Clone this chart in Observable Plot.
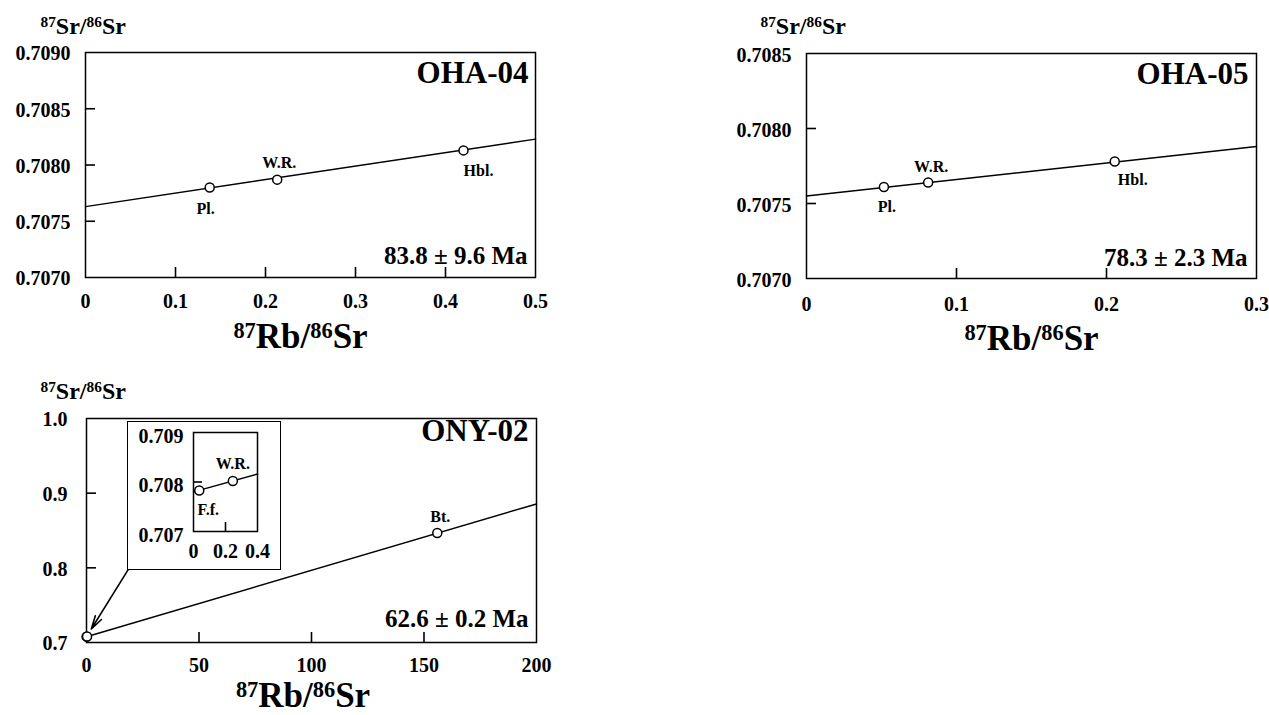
<!DOCTYPE html>
<html>
<head>
<meta charset="utf-8">
<script src="https://cdn.jsdelivr.net/npm/d3@7"></script>
<script src="https://cdn.jsdelivr.net/npm/@observablehq/plot@0.6"></script>
<style>
  body { margin: 0; background: #fff; }
  #root { position: relative; width: 1269px; height: 715px; overflow: hidden; background: #fff; }
  #root > svg { position: absolute; }
  #insetBox { position: absolute; left: 127px; top: 421px; width: 154px; height: 149px;
              border: 1.5px solid #000; background: #fff; box-sizing: border-box; }
  #insetBox svg { position: absolute; left: -0.5px; top: -0.5px; }
</style>
</head>
<body>
<div id="root"></div>
<script>
// ---------------- data ----------------
// OHA-04
const oha04Minerals = ["Pl.", "W.R.", "Hbl."];
const oha04Rb = [0.138, 0.213, 0.420];
const oha04Sr = [0.70780, 0.70787, 0.70813];
const oha04LineRb = [0, 0.5];
const oha04LineSr = [0.70763, 0.70823];
const oha04Age = "83.8 ± 9.6 Ma";
const oha04XTicks = [0, 0.1, 0.2, 0.3, 0.4, 0.5];
const oha04YTicks = [0.7070, 0.7075, 0.7080, 0.7085, 0.7090];

// OHA-05
const oha05Minerals = ["Pl.", "W.R.", "Hbl."];
const oha05Rb = [0.0516, 0.0811, 0.2055];
const oha05Sr = [0.70761, 0.70764, 0.70778];
const oha05LineRb = [0, 0.3];
const oha05LineSr = [0.70755, 0.70788];
const oha05Age = "78.3 ± 2.3 Ma";
const oha05XTicks = [0, 0.1, 0.2, 0.3];
const oha05YTicks = [0.7070, 0.7075, 0.7080, 0.7085];

// ONY-02
const ony02Minerals = ["F.f.", "W.R.", "Bt."];
const ony02Rb = [0.036, 0.246, 155.9];
const ony02Sr = [0.70783, 0.70802, 0.8466];
const ony02LineRb = [0, 200];
const ony02LineSr = [0.7078, 0.8856];
const ony02Age = "62.6 ± 0.2 Ma";
const ony02XTicks = [0, 50, 100, 150, 200];
const ony02YTicks = [0.7, 0.8, 0.9, 1.0];

// ONY-02 inset (enlarged view near origin)
const insetLineRb = [0, 0.4];
const insetLineSr = [0.7078, 0.70816];
const insetXTicks = [0, 0.2, 0.4];
const insetYTicks = [0.707, 0.708, 0.709];

// arrow from inset box corner to the low-Rb points (ONY-02 data units)
const arrowFromRb = [18.8];
const arrowFromSr = [0.799];

const xTitle = "87Rb/86Sr";
const yTitle = "87Sr/86Sr";

// ---------------- styling ----------------
const FONT = '"Liberation Serif","Times New Roman",Times,serif';
const baseStyle = {fontFamily: FONT, fontWeight: "bold", color: "#000", background: "transparent", overflow: "visible"};

function toPoints(names, xs, ys) { return names.map((n, i) => ({name: n, x: xs[i], y: ys[i]})); }
function toLine(xs, ys) { return xs.map((x, i) => ({x, y: ys[i]})); }

function panel(o) {
  const pts = toPoints(o.names, o.rb, o.sr);
  const line = toLine(o.lineRb, o.lineSr);
  const [xLo, xHi] = o.xDomain, [yLo, yHi] = o.yDomain;
  const fw = o.width - o.m[0] - o.m[1], fh = o.height - o.m[2] - o.m[3];
  // inward tick length in pixels, converted to data units
  const dyTick = (yHi - yLo) * o.tickLen / fh, dxTick = (xHi - xLo) * o.tickLen / fw;
  const xIn = o.xTicks.slice(1, -1).map(t => ({t, a: yLo, b: yLo + dyTick}));
  const yIn = o.yTicks.slice(1, -1).map(t => ({t, a: xLo, b: xLo + dxTick}));
  const marks = [
    Plot.line(line, {x: "x", y: "y", stroke: "#000", strokeWidth: 1.5}),
    Plot.frame({stroke: "#000", strokeWidth: 1.5}),
    Plot.axisX({ticks: o.xTicks, tickSize: 0, tickPadding: o.xPad, fontSize: o.tickFont, tickFormat: o.xFmt, label: null}),
    Plot.axisY({ticks: o.yTicks, tickSize: 0, tickPadding: o.yPad, fontSize: o.tickFont, tickFormat: o.yFmt, label: null, dy: o.yLabelDy})
  ];
  if (o.arrow) marks.push(o.arrow);
  marks.push(Plot.dot(pts.filter(p => p.x >= xLo && p.x <= xHi), {x: "x", y: "y", r: o.r, fill: "#fff", stroke: "#000", strokeWidth: 1.5}));
  pts.forEach((p, i) => {
    const off = o.labelOffsets[i];
    if (!off) return;
    marks.push(Plot.text([p], {x: "x", y: "y", text: "name", dx: off[0], dy: off[1], fontSize: o.labelFont}));
  });
  if (o.sample) marks.push(Plot.text([o.sample], {text: d => d, frameAnchor: "top-right", textAnchor: "end", lineAnchor: "bottom", dx: o.sampleDx, dy: o.sampleDy, fontSize: 31}));
  if (o.age) marks.push(Plot.text([o.age], {text: d => d, frameAnchor: "bottom-right", textAnchor: "end", lineAnchor: "bottom", dx: o.ageDx, dy: o.ageDy, fontSize: 25}));
  if (o.xTitleDy) marks.push(Plot.text([xTitle], {text: d => d, frameAnchor: "bottom", textAnchor: "middle", lineAnchor: "bottom", dx: o.xTitleDx, dy: o.xTitleDy, fontSize: 35}));
  if (o.yTitleDx) marks.push(Plot.text([yTitle], {text: d => d, frameAnchor: "top-left", textAnchor: "start", lineAnchor: "bottom", dx: o.yTitleDx, dy: o.yTitleDy, fontSize: 24}));
  // inward tick marks, drawn last so nothing covers them
  marks.push(Plot.ruleX(xIn, {x: "t", y1: "a", y2: "b", stroke: "#000", strokeWidth: 1.6}));
  marks.push(Plot.ruleY(yIn, {y: "t", x1: "a", x2: "b", stroke: "#000", strokeWidth: 1.6}));
  return Plot.plot({
    width: o.width, height: o.height,
    marginLeft: o.m[0], marginRight: o.m[1], marginTop: o.m[2], marginBottom: o.m[3],
    x: {domain: o.xDomain, label: null},
    y: {domain: o.yDomain, label: null},
    style: baseStyle,
    marks
  });
}

function supify(svg) {
  svg.querySelectorAll("text").forEach(t => {
    if (t.children.length) return;
    const m = /^(\d+)([A-Za-z]+)\/(\d+)([A-Za-z]+)$/.exec(t.textContent);
    if (!m) return;
    const fs = parseFloat(getComputedStyle(t).fontSize);
    const supFs = fs * 0.64, shift = fs * 0.27;
    t.textContent = "";
    const parts = [[m[1], true], [m[2] + "/", false], [m[3], true], [m[4], false]];
    let raised = false;
    for (const [s, sup] of parts) {
      const ts = document.createElementNS("http://www.w3.org/2000/svg", "tspan");
      if (sup) { ts.setAttribute("font-size", supFs); ts.setAttribute("dy", -shift); raised = true; }
      else if (raised) { ts.setAttribute("dy", shift); raised = false; }
      ts.textContent = s;
      t.appendChild(ts);
    }
  });
}

const fmtX = d => d === 0 ? "0" : String(d);
const root = document.getElementById("root");

const p1 = panel({
  width: 640, height: 360, m: [85, 105, 52, 83],
  xDomain: [0, 0.5], yDomain: [0.7070, 0.7090],
  names: oha04Minerals, rb: oha04Rb, sr: oha04Sr, lineRb: oha04LineRb, lineSr: oha04LineSr,
  xTicks: oha04XTicks, yTicks: oha04YTicks, xFmt: fmtX, yFmt: d3.format(".4f"),
  tickLen: 10, tickFont: 20, xPad: 16.5, yPad: 15, yLabelDy: 1.5, r: 4.5, labelFont: 16,
  labelOffsets: [[-4, 21], [2, -17], [15, 20]],
  sample: "OHA-04", sampleDx: -7, sampleDy: 30,
  age: oha04Age, ageDx: -8, ageDy: -13.5,
  xTitleDx: -10, xTitleDy: 70, yTitleDx: -45, yTitleDy: -19
});
p1.style.left = "0px"; p1.style.top = "0px";
root.appendChild(p1);

const p2 = panel({
  width: 629, height: 360, m: [166, 13, 53, 82],
  xDomain: [0, 0.3], yDomain: [0.7070, 0.7085],
  names: oha05Minerals, rb: oha05Rb, sr: oha05Sr, lineRb: oha05LineRb, lineSr: oha05LineSr,
  xTicks: oha05XTicks, yTicks: oha05YTicks, xFmt: fmtX, yFmt: d3.format(".4f"),
  tickLen: 10, tickFont: 20, xPad: 18.5, yPad: 15, yLabelDy: 2, r: 4.5, labelFont: 16,
  labelOffsets: [[3, 20], [3, -15.5], [18, 18.5]],
  sample: "OHA-05", sampleDx: -8, sampleDy: 30,
  age: oha05Age, ageDx: -9, ageDy: -13,
  xTitleDx: 0, xTitleDy: 71, yTitleDx: -46, yTitleDy: -20
});
p2.style.left = "640px"; p2.style.top = "0px";
root.appendChild(p2);

const arrowMark = Plot.arrow([0], {
  x1: () => arrowFromRb[0], y1: () => arrowFromSr[0],
  x2: () => ony02Rb[0], y2: () => ony02Sr[0],
  insetEnd: 9, headLength: 13, headAngle: 30, stroke: "#000", strokeWidth: 1.6
});

const p3 = panel({
  width: 640, height: 355, m: [86, 104, 58, 73],
  xDomain: [0, 200], yDomain: [0.7, 1.0],
  names: ony02Minerals, rb: ony02Rb, sr: ony02Sr, lineRb: ony02LineRb, lineSr: ony02LineSr,
  xTicks: ony02XTicks, yTicks: ony02YTicks, xFmt: fmtX, yFmt: d3.format(".1f"),
  tickLen: 10, tickFont: 20, xPad: 15, yPad: 19, yLabelDy: 1.5, r: 4.5, labelFont: 16,
  labelOffsets: [null, null, [3, -16]],
  arrow: arrowMark,
  sample: "ONY-02", sampleDx: -8, sampleDy: 22,
  age: ony02Age, ageDx: -8, ageDy: -16,
  xTitleDx: -8.5, xTitleDy: 64, yTitleDx: -46, yTitleDy: -20
});
p3.style.left = "0px"; p3.style.top = "360px";
root.appendChild(p3);

// inset box on top of panel 3
const insetBox = document.createElement("div");
insetBox.id = "insetBox";
root.appendChild(insetBox);
const p4 = panel({
  width: 152, height: 147, m: [65, 23, 10, 38],
  xDomain: [0, 0.4], yDomain: [0.707, 0.709],
  names: ony02Minerals, rb: ony02Rb, sr: ony02Sr, lineRb: insetLineRb, lineSr: insetLineSr,
  xTicks: insetXTicks, yTicks: insetYTicks, xFmt: d => d === 0 ? "0" : d3.format(".1f")(d), yFmt: d3.format(".3f"),
  tickLen: 9, tickFont: 20, xPad: 12, yPad: 10, yLabelDy: 4, r: 4.5, labelFont: 16,
  labelOffsets: [[9, 19], [0, -17], null]
});
insetBox.appendChild(p4);

[p1, p2, p3, p4].forEach(supify);
</script>
</body>
</html>
